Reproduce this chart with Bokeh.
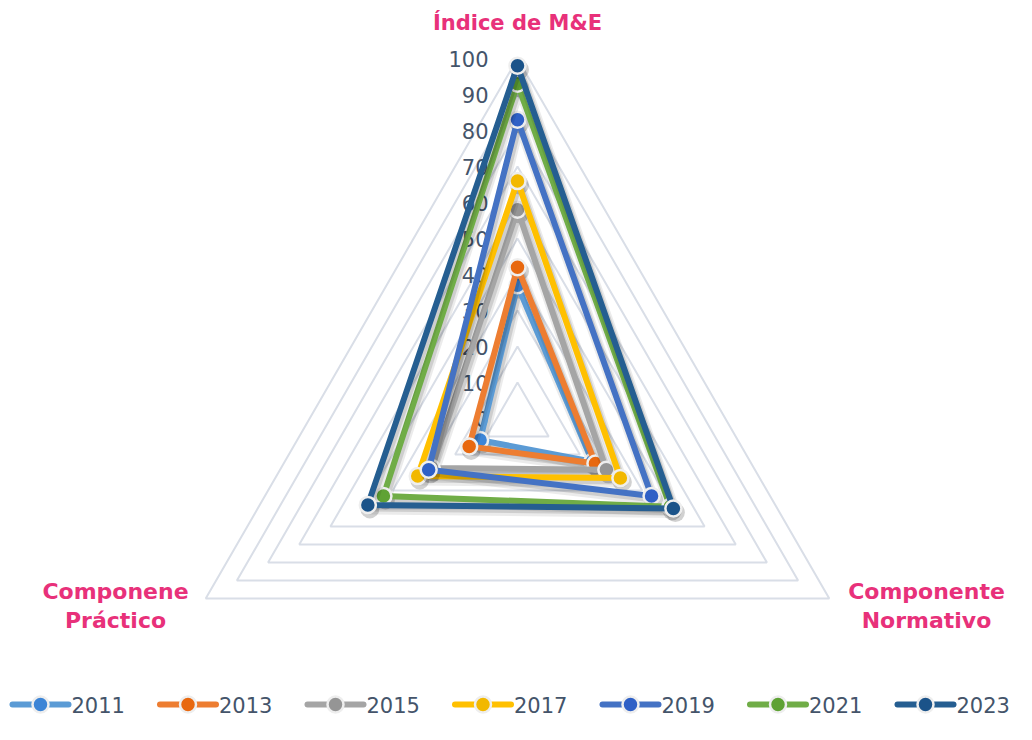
import math
from bokeh.plotting import figure
from bokeh.models import Range1d
from bokeh.core.properties import value
from bokeh.embed import file_html
from bokeh.resources import INLINE

# ---- data ----
years = ["2011", "2013", "2015", "2017", "2019", "2021", "2023"]
indice = [37, 42, 58, 66, 83, 93, 98]          # Índice de M&E
normativo = [24, 25, 28.5, 33, 43, 49, 50]      # Componente Normativo
practico = [12, 15.5, 27.5, 32, 28.5, 43, 48]   # Componene Práctico
axis_labels = ["Índice de M&E", "Componente\nNormativo", "Componene\nPráctico"]
ticks = [0, 10, 20, 30, 40, 50, 60, 70, 80, 90, 100]

line_colors = ["#5b9bd5", "#ed7d31", "#a5a5a5", "#ffc000", "#4472c4", "#70ad47", "#255e91"]
marker_colors = ["#3d85d6", "#e8680f", "#959595", "#f2b800", "#2f60c6", "#5fa234", "#1b5389"]

# ---- geometry (picture pixel coords) ----
W, H = 1016, 724
CX, CY, R = 517, 418, 360.0
angles = [90, -30, 210]  # top, bottom-right, bottom-left
FONT = "DejaVu Sans"
TXT = "#44546a"
PINK = "#e8317a"


def pt(v, k):
    a = math.radians(angles[k])
    r = R * v / 100.0
    return CX + r * math.cos(a), CY - r * math.sin(a)


p = figure(width=W, height=H, output_backend="svg", toolbar_location=None,
           x_range=Range1d(0, W), y_range=Range1d(H, 0),
           min_border=0, outline_line_color=None)
p.axis.visible = False
p.grid.visible = False

# grid rings
for t in ticks[1:]:
    xs, ys = zip(*[pt(t, k) for k in (0, 1, 2, 0)])
    p.line(list(xs), list(ys), line_color="#d9dee7", line_width=2)

# tick labels
tx, ty = [], []
for t in ticks:
    x, y = pt(t, 0)
    tx.append(x - 29)
    ty.append(y)
p.text(tx, ty, text=[str(t) for t in ticks], text_align="right", text_baseline="middle",
       text_font=value(FONT), text_font_size="21px", text_color=TXT)

# series
for i, yr in enumerate(years):
    vals = [indice[i], normativo[i], practico[i]]
    pts = [pt(vals[k], k) for k in (0, 1, 2, 0)]
    xs = [q[0] for q in pts]
    ys = [q[1] for q in pts]
    # soft shadow
    p.line([x + 2 for x in xs], [y + 4 for y in ys], line_color="black", line_alpha=0.08,
           line_width=11, line_join="round")
    p.line([x + 2 for x in xs], [y + 3 for y in ys], line_color="black", line_alpha=0.12,
           line_width=7, line_join="round")
    p.scatter([x + 2 for x in xs[:3]], [y + 4 for y in ys[:3]], size=19, fill_color="black",
              fill_alpha=0.18, line_color=None)
    p.line(xs, ys, line_color=line_colors[i], line_width=6, line_join="round", line_cap="round")
    p.scatter(xs[:3], ys[:3], size=16, fill_color=marker_colors[i], line_color="#eeeeee",
              line_width=2.5)

# legend (manual, row at the bottom)
LX0, LSTEP, LY = 12, 147.5, 704
for i, yr in enumerate(years):
    x0 = LX0 + LSTEP * i
    p.line([x0, x0 + 56], [LY, LY], line_color=line_colors[i], line_width=6, line_cap="round")
    p.scatter([x0 + 28], [LY], size=16, fill_color=marker_colors[i], line_color="#eeeeee",
              line_width=2.5)
    p.text([x0 + 59], [LY], text=[yr], text_align="left", text_baseline="middle",
           text_font=value(FONT), text_font_size="21px", text_color=TXT)

# axis titles
p.text([517], [22], text=[axis_labels[0]], text_align="center", text_baseline="middle",
       text_font=value(FONT), text_font_style="bold", text_font_size="21px", text_color=PINK)
p.text([926, 926], [591, 620], text=axis_labels[1].split("\n"), text_align="center",
       text_baseline="middle", text_font=value(FONT), text_font_style="bold",
       text_font_size="22px", text_color=PINK)
p.text([115, 115], [591, 620], text=axis_labels[2].split("\n"), text_align="center",
       text_baseline="middle", text_font=value(FONT), text_font_style="bold",
       text_font_size="22px", text_color=PINK)

open("out.html", "w").write(file_html(p, INLINE))
